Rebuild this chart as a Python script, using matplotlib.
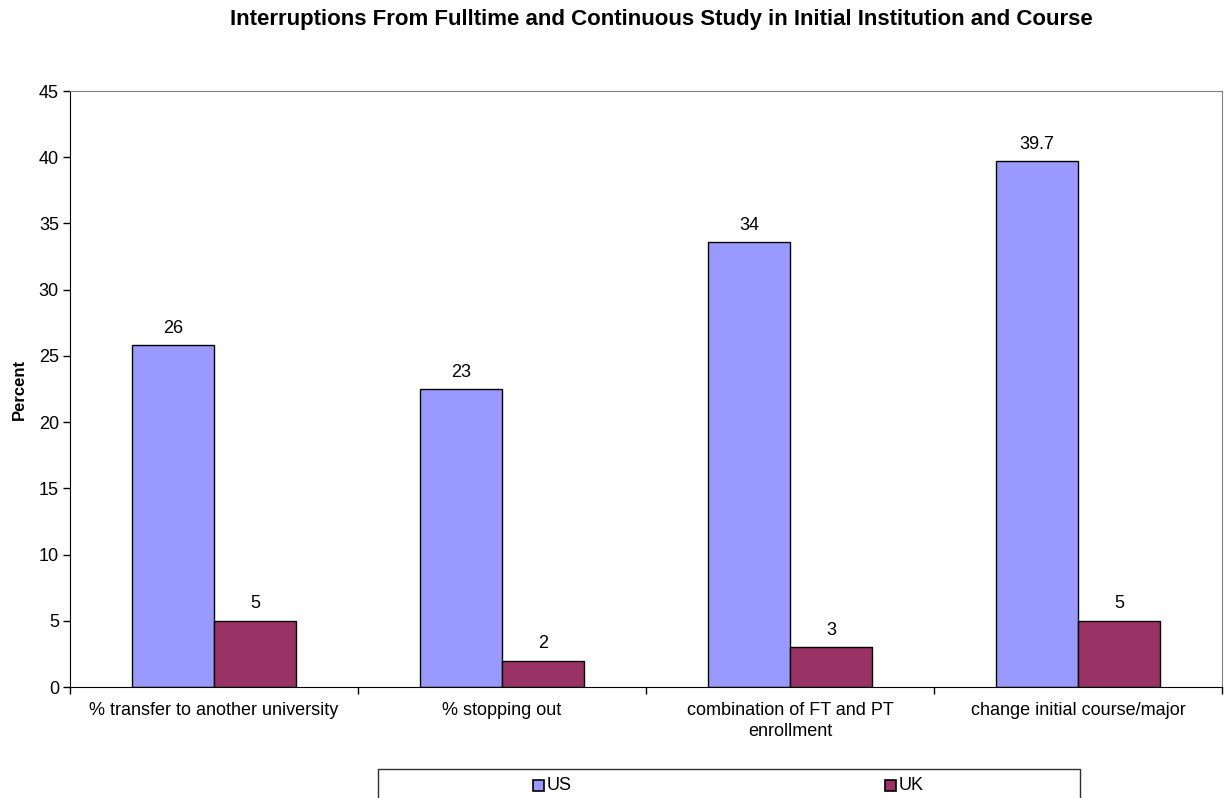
import matplotlib
matplotlib.use("Agg")
import matplotlib.pyplot as plt
import numpy as np
from matplotlib.patches import Rectangle

categories = ["% transfer to another university", "% stopping out",
              "combination of FT and PT\nenrollment", "change initial course/major"]
us_values = [25.8, 22.5, 33.6, 39.7]
uk_values = [5, 2, 3, 5]
us_labels = ["26", "23", "34", "39.7"]
uk_labels = ["5", "2", "3", "5"]
yticks = [0, 5, 10, 15, 20, 25, 30, 35, 40, 45]
series_names = ["US", "UK"]

plt.rcParams['font.family'] = ['Liberation Sans', 'DejaVu Sans']

W, H = 1225, 798
fig = plt.figure(figsize=(W/100, H/100), dpi=100)
ax = fig.add_axes([70/W, 1-687/H, (1222-70)/W, (687-91)/H])

x = np.arange(len(categories))
w = 0.285
us_c = "#9999ff"
uk_c = "#993366"
b1 = ax.bar(x - w/2, us_values, w, color=us_c, edgecolor="black", linewidth=1)
b2 = ax.bar(x + w/2, uk_values, w, color=uk_c, edgecolor="black", linewidth=1)
for bars, labels in ((b1, us_labels), (b2, uk_labels)):
    for rect, lab in zip(bars, labels):
        ax.annotate(lab, (rect.get_x() + rect.get_width()/2, rect.get_height()),
                    xytext=(0, 6), textcoords="offset points", ha="center", va="bottom", fontsize=13)

ax.set_xlim(-0.5, len(categories) - 0.5)
ax.set_ylim(0, 45)
ax.set_yticks(yticks)
ax.tick_params(axis="y", labelsize=13, length=5, direction="out", width=1, pad=3)
ax.set_xticks(x)
ax.set_xticklabels(categories, fontsize=13, linespacing=1.3)
ax.tick_params(axis="x", length=0, pad=11)
ax.set_xticks(np.arange(len(categories) + 1) - 0.5, minor=True)
ax.tick_params(axis="x", which="minor", length=5, direction="out", width=1)

for s in ["top", "right"]:
    ax.spines[s].set_color("#808080")
for s in ["left", "bottom"]:
    ax.spines[s].set_color("black")

ax.set_ylabel("Percent", fontsize=12, fontweight="bold")
ax.yaxis.set_label_coords((27-70)/1152, 0.5)
fig.text(661/W, 1-19/H, "Interruptions From Fulltime and Continuous Study in Initial Institution and Course",
         ha="center", va="center", fontsize=16, fontweight="bold")

# legend box (extends past bottom edge like the reference)
fig.patches.append(Rectangle((378/W, -0.02), (1080-378)/W, 1-769/H + 0.02, transform=fig.transFigure,
                             facecolor="white", edgecolor="#303030", linewidth=1))
for name, color, mx in zip(series_names, [us_c, uk_c], [533, 885]):
    fig.patches.append(Rectangle((mx/W, 1-791/H), 11/W, 11/H, transform=fig.transFigure,
                                 facecolor=color, edgecolor="black", linewidth=1.2))
    fig.text((mx+14)/W, 1-785/H, name, ha="left", va="center", fontsize=13)

fig.savefig("out.png", dpi=100)
